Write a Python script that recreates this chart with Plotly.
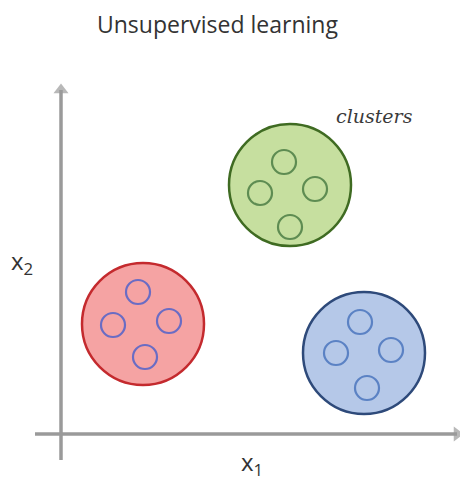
import plotly.graph_objects as go

# Data (units: x1, x2)
cluster_names = ["red", "green", "blue"]
cluster_x = [8.2, 22.9, 30.3]
cluster_y = [11.0, 24.9, 8.1]
point_x = [[7.7, 5.2, 10.8, 8.4], [22.3, 19.9, 25.4, 22.9], [29.9, 27.5, 33.0, 30.6]]
point_y = [[14.2, 10.9, 11.3, 7.7], [27.2, 24.1, 24.5, 20.7], [11.2, 8.1, 8.4, 4.6]]
axis_x1 = [-2.6, 39.6]
axis_x2 = [-2.6, 34.4]
cluster_fill = ["#f5a3a3", "#c6df9f", "#b5c8e8"]
cluster_edge = ["#c42a2e", "#3f6b22", "#2e4a7a"]
point_edge = ["#6a6cc4", "#5e8c52", "#5b82c4"]

fig = go.Figure()

axis_color = "#9a9a9a"
fig.add_trace(go.Scatter(
    x=axis_x1, y=[0, 0], mode="lines+markers",
    line=dict(color=axis_color, width=3.5),
    marker=dict(symbol="triangle-up", angleref="previous", size=[0, 13], color=axis_color,
                line=dict(width=0)),
    showlegend=False, hoverinfo="skip"))
fig.add_trace(go.Scatter(
    x=[0, 0], y=axis_x2, mode="lines+markers",
    line=dict(color=axis_color, width=3.5),
    marker=dict(symbol="triangle-up", angleref="previous", size=[0, 13], color=axis_color,
                line=dict(width=0)),
    showlegend=False, hoverinfo="skip"))

for i in range(3):
    fig.add_trace(go.Scatter(
        x=[cluster_x[i]], y=[cluster_y[i]], mode="markers",
        marker=dict(size=122, color=cluster_fill[i], line=dict(color=cluster_edge[i], width=2.5)),
        showlegend=False, hoverinfo="skip"))
    fig.add_trace(go.Scatter(
        x=point_x[i], y=point_y[i], mode="markers",
        marker=dict(size=24, color="rgba(0,0,0,0)", line=dict(color=point_edge[i], width=2.2)),
        showlegend=False, hoverinfo="skip"))

fig.add_annotation(x=19.1, y=-2.9, xref="x", yref="y", showarrow=False,
                   text="x<sub>1</sub>", font=dict(family="Open Sans", size=24, color="#333"))
fig.add_annotation(x=-3.9, y=17.2, xref="x", yref="y", showarrow=False,
                   text="x<sub>2</sub>", font=dict(family="Open Sans", size=24, color="#333"))
fig.add_annotation(x=31.3, y=31.8, xref="x", yref="y", showarrow=False,
                   text="<i>clusters</i>", font=dict(family="DejaVu Serif", size=19, color="#3a3a3a"))
fig.add_annotation(x=15.6, y=41.0, xref="x", yref="y", showarrow=False,
                   text="Unsupervised learning", font=dict(family="Open Sans", size=23, color="#333"))

fig.update_layout(
    width=468, height=501, margin=dict(l=0, r=0, t=0, b=0),
    paper_bgcolor="white", plot_bgcolor="white",
    xaxis=dict(range=[-5.3, 41.5], visible=False, fixedrange=True),
    yaxis=dict(range=[-7.5, 42.6], visible=False, fixedrange=True),
)

fig.write_html("out.html")
